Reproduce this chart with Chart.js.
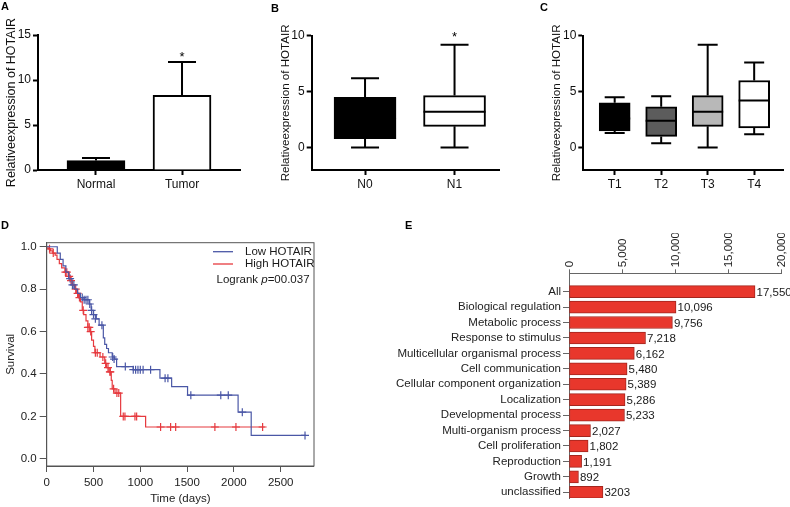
<!DOCTYPE html>
<html><head><meta charset="utf-8">
<script src="https://cdn.jsdelivr.net/npm/chart.js@4/dist/chart.umd.min.js"></script>
<style>
html,body{margin:0;padding:0;background:#fff;}
#wrap{position:relative;width:790px;height:507px;overflow:hidden;background:#fff;}
#wrap canvas{position:absolute;left:0;top:0;}
.lbl{position:absolute;font:bold 11px "Liberation Sans",Arial,sans-serif;color:#000;line-height:1;}
</style></head><body>
<div id="wrap">
<canvas id="cA" width="790" height="507"></canvas>
<canvas id="cB" width="790" height="507"></canvas>
<canvas id="cC" width="790" height="507"></canvas>
<canvas id="cD" width="790" height="507"></canvas>
<canvas id="cE" width="790" height="507"></canvas>
<div class="lbl" style="left:1px;top:1px">A</div>
<div class="lbl" style="left:271px;top:3px">B</div>
<div class="lbl" style="left:540px;top:2px">C</div>
<div class="lbl" style="left:1px;top:220px">D</div>
<div class="lbl" style="left:405px;top:220px">E</div>
</div>
<script>
// ---------- DATA ----------
// Panel A
const catA = ['Normal', 'Tumor'];
const meanA = [1.05, 8.3];
const errA = [0.28, 3.7];
const fillA = ['#000000', '#ffffff'];
const starA = ['', '*'];
const yTicksA = [0, 5, 10, 15];

// Panel B
const catB = ['N0', 'N1'];
const minB = [0.0, 0.0];
const q1B = [0.8, 1.9];
const medB = [2.6, 3.2];
const q3B = [4.5, 4.65];
const maxB = [6.2, 9.2];
const fillB = ['#000000', '#ffffff'];
const starB = ['', '*'];

// Panel C
const catC = ['T1', 'T2', 'T3', 'T4'];
const minC = [1.3, 0.4, 0.0, 1.2];
const q1C = [1.5, 1.0, 1.9, 1.75];
const medC = [2.6, 2.4, 3.2, 4.2];
const q3C = [4.0, 3.65, 4.65, 6.0];
const maxC = [4.5, 4.6, 9.2, 7.6];
const fillC = ['#000000', '#5c5c5c', '#b8b8b8', '#ffffff'];
const starC = ['', '', '', ''];
const yTicksBC = [0, 5, 10];
const yTitle = 'Relativeexpression of HOTAIR';

// Panel D (Kaplan-Meier)
const lowT = [0, 113, 145, 175, 205, 235, 270, 300, 330, 360, 400, 455, 475, 500, 530, 560, 605, 620, 640, 660, 700, 725, 747, 925, 1210, 1335, 1505, 2045, 2185, 2770];
const lowS = [1.0, 0.97, 0.94, 0.91, 0.88, 0.85, 0.82, 0.80, 0.78, 0.76, 0.75, 0.73, 0.70, 0.68, 0.66, 0.63, 0.57, 0.54, 0.52, 0.50, 0.48, 0.47, 0.435, 0.42, 0.38, 0.34, 0.30, 0.22, 0.11, 0.11];
const highT = [0, 15, 40, 65, 90, 110, 135, 160, 195, 235, 255, 275, 300, 320, 340, 360, 380, 395, 420, 440, 465, 480, 500, 515, 570, 620, 640, 665, 690, 700, 730, 790, 1057, 2330];
const highS = [1.0, 0.99, 0.98, 0.97, 0.96, 0.94, 0.92, 0.90, 0.88, 0.86, 0.84, 0.82, 0.80, 0.78, 0.76, 0.74, 0.70, 0.68, 0.65, 0.62, 0.60, 0.56, 0.53, 0.50, 0.48, 0.45, 0.43, 0.41, 0.37, 0.33, 0.31, 0.20, 0.15, 0.15];
const lowCensT = [250, 275, 290, 380, 400, 420, 440, 460, 480, 500, 520, 590, 705, 720, 840, 925, 950, 975, 1000, 1030, 1110, 1265, 1295, 1540, 1860, 1940, 2090, 2760];
const lowCensS = [0.85, 0.82, 0.82, 0.76, 0.75, 0.75, 0.75, 0.73, 0.70, 0.68, 0.66, 0.63, 0.48, 0.47, 0.435, 0.42, 0.42, 0.42, 0.42, 0.42, 0.42, 0.38, 0.38, 0.30, 0.30, 0.30, 0.22, 0.11];
const highCensT = [30, 70, 200, 215, 240, 260, 310, 330, 350, 390, 440, 455, 470, 520, 540, 600, 630, 655, 675, 680, 715, 750, 770, 818, 836, 943, 961, 1217, 1324, 1378, 1797, 2022, 2307];
const highCensS = [0.99, 0.97, 0.88, 0.88, 0.86, 0.84, 0.80, 0.78, 0.76, 0.70, 0.62, 0.62, 0.60, 0.50, 0.50, 0.48, 0.45, 0.43, 0.41, 0.41, 0.33, 0.31, 0.31, 0.20, 0.20, 0.20, 0.20, 0.15, 0.15, 0.15, 0.15, 0.15, 0.15];
const xTicksD = [0, 500, 1000, 1500, 2000, 2500];
const yTicksD = [0, 0.2, 0.4, 0.6, 0.8, 1.0];
const seriesD = ['Low HOTAIR', 'High HOTAIR'];
const colorsD = ['#4a57a6', '#e63a3f'];

// Panel E
const catE = ['All', 'Biological regulation', 'Metabolic process', 'Response to stimulus', 'Multicellular organismal process', 'Cell communication', 'Cellular component organization', 'Localization', 'Developmental process', 'Multi-organism process', 'Cell proliferation', 'Reproduction', 'Growth', 'unclassified'];
const valE = [17550, 10096, 9756, 7218, 6162, 5480, 5389, 5286, 5233, 2027, 1802, 1191, 892, 3203];
const labE = ['17,550', '10,096', '9,756', '7,218', '6,162', '5,480', '5,389', '5,286', '5,233', '2,027', '1,802', '1,191', '892', '3203'];
const xTicksE = [0, 5000, 10000, 15000, 20000];

// ---------- SETUP ----------
const FONT = '"Liberation Sans", Arial, Helvetica, sans-serif';
Chart.defaults.font.family = FONT;
Chart.defaults.font.size = 12;
Chart.defaults.color = '#1a1a1a';
Chart.defaults.animation = false;
Chart.defaults.responsive = false;
Chart.defaults.maintainAspectRatio = false;
Chart.defaults.plugins.legend.display = false;
Chart.defaults.plugins.tooltip.enabled = false;

function setTicks(arr) { return s => { s.ticks = arr.map(v => ({ value: v })); }; }

// ---------- PANEL A ----------
const errPlugin = {
  id: 'errA',
  afterDatasetsDraw(chart) {
    const { ctx, scales: { y } } = chart;
    const meta = chart.getDatasetMeta(0);
    ctx.save();
    ctx.strokeStyle = '#000'; ctx.lineWidth = 2;
    meanA.forEach((m, i) => {
      const cx = meta.data[i].x;
      const base = y.getPixelForValue(m);
      const top = y.getPixelForValue(m + errA[i]);
      ctx.beginPath();
      ctx.moveTo(cx, base); ctx.lineTo(cx, top);
      ctx.moveTo(cx - 14, top); ctx.lineTo(cx + 14, top);
      ctx.stroke();
      if (starA[i]) {
        ctx.fillStyle = '#000'; ctx.font = '13px ' + FONT;
        ctx.textAlign = 'center'; ctx.textBaseline = 'alphabetic';
        ctx.fillText(starA[i], cx, top - 9 + 7.5);
      }
    });
    ctx.restore();
  }
};
new Chart(document.getElementById('cA'), {
  type: 'bar',
  data: { datasets: [{ data: catA.map((c, i) => ({ x: i + 1, y: meanA[i] })), backgroundColor: fillA, borderColor: '#000', borderWidth: 2, barThickness: 58 }] },
  options: {
    layout: { padding: { left: 4, top: 35, right: 550, bottom: 307 } },
    scales: {
      x: { type: 'linear', offset: false, min: 0.326, max: 2.674, afterBuildTicks: setTicks([1, 2]),
        ticks: { callback: v => catA[v - 1], autoSkip: false, maxRotation: 0, padding: 2, color: '#111' },
        grid: { offset: false, drawOnChartArea: false, tickLength: 5, tickWidth: 2, tickColor: '#000' },
        border: { color: '#000', width: 2 }, afterFit: s => { s.height = 30; } },
      y: { min: 0, max: 15, afterBuildTicks: setTicks(yTicksA),
        ticks: { padding: 2, color: '#111' },
        grid: { drawOnChartArea: false, tickLength: 5, tickWidth: 2, tickColor: '#000' },
        border: { color: '#000', width: 2 },
        title: { display: true, text: yTitle, padding: 0, color: '#111', font: { size: 12.5 } },
        afterFit: s => { s.width = 34; } }
    }
  },
  plugins: [errPlugin]
});

// ---------- PANELS B, C ----------
function whiskerPlugin(mins, q1, med, q3, maxs, stars, capW, starGap) {
  return {
    id: 'whisk',
    afterDatasetsDraw(chart) {
      const { ctx, scales: { y } } = chart;
      const meta = chart.getDatasetMeta(0);
      ctx.save();
      ctx.strokeStyle = '#000'; ctx.lineWidth = 2;
      meta.data.forEach((bar, i) => {
        const cx = bar.x;
        const hw = bar.width / 2;
        const pMin = y.getPixelForValue(mins[i]), pQ1 = y.getPixelForValue(q1[i]);
        const pMed = y.getPixelForValue(med[i]), pQ3 = y.getPixelForValue(q3[i]);
        const pMax = y.getPixelForValue(maxs[i]);
        ctx.beginPath();
        ctx.moveTo(cx, pQ3); ctx.lineTo(cx, pMax);
        ctx.moveTo(cx - capW / 2, pMax); ctx.lineTo(cx + capW / 2, pMax);
        ctx.moveTo(cx, pQ1); ctx.lineTo(cx, pMin);
        ctx.moveTo(cx - capW / 2, pMin); ctx.lineTo(cx + capW / 2, pMin);
        ctx.moveTo(cx - hw, pMed); ctx.lineTo(cx + hw, pMed);
        ctx.stroke();
        if (stars[i]) {
          ctx.fillStyle = '#000'; ctx.font = '13px ' + FONT;
          ctx.textAlign = 'center'; ctx.textBaseline = 'alphabetic';
          ctx.fillText(stars[i], cx, pMax - starGap + 7.5);
        }
      });
      ctx.restore();
    }
  };
}
function boxChart(id, cats, mins, q1, med, q3, maxs, fills, stars, pad, yW, xr, thick, capW) {
  return new Chart(document.getElementById(id), {
    type: 'bar',
    data: { datasets: [{ data: cats.map((c, i) => ({ x: i + 1, y: [q1[i], q3[i]] })), backgroundColor: fills, borderColor: '#000', borderWidth: 2, borderSkipped: false, barThickness: thick }] },
    options: {
      layout: { padding: pad },
      scales: {
        x: { type: 'linear', offset: false, min: xr[0], max: xr[1], afterBuildTicks: setTicks(cats.map((c, i) => i + 1)),
          ticks: { callback: v => cats[v - 1], autoSkip: false, maxRotation: 0, padding: 2, color: '#111' },
          grid: { offset: false, drawOnChartArea: false, tickLength: 5, tickWidth: 2, tickColor: '#000' },
          border: { color: '#000', width: 2 }, afterFit: s => { s.height = 30; } },
        y: { min: -2, max: 10, afterBuildTicks: setTicks(yTicksBC),
          ticks: { padding: 2, color: '#111' },
          grid: { drawOnChartArea: false, tickLength: 5, tickWidth: 2, tickColor: '#000' },
          border: { color: '#000', width: 2 },
          title: { display: true, text: yTitle, padding: 0, color: '#111', font: { size: 11.6 } },
          afterFit: s => { s.width = yW; } }
      }
    },
    plugins: [whiskerPlugin(mins, q1, med, q3, maxs, stars, capW, 11)]
  });
}
boxChart('cB', catB, minB, q1B, medB, q3B, maxB, fillB, starB,
  { left: 279, top: 35.7, right: 290, bottom: 307 }, 32.7, [0.404, 2.508], 62, 28);
boxChart('cC', catC, minC, q1C, medC, q3C, maxC, fillC, starC,
  { left: 550, top: 35.7, right: 7, bottom: 307 }, 33.3, [0.325, 4.62], 31, 20);

// ---------- PANEL D ----------
const kmPlugin = {
  id: 'km',
  afterDatasetsDraw(chart) {
    const { ctx, chartArea: a } = chart;
    ctx.save();
    ctx.strokeStyle = '#555'; ctx.lineWidth = 1;
    ctx.strokeRect(a.left, a.top, a.right - a.left, a.bottom - a.top);
    ctx.font = '11.5px ' + FONT; ctx.textBaseline = 'middle'; ctx.textAlign = 'left';
    seriesD.forEach((name, i) => {
      const yy = a.top + 9 + i * 12.3;
      ctx.strokeStyle = colorsD[i]; ctx.lineWidth = 1.3;
      ctx.beginPath(); ctx.moveTo(a.right - 101, yy); ctx.lineTo(a.right - 81, yy); ctx.stroke();
      ctx.fillStyle = '#1a1a1a';
      ctx.fillText(name, a.right - 69, yy);
    });
    let xx = a.right - 97.5; const yl = a.top + 37.5;
    ctx.fillText('Logrank ', xx, yl); xx += ctx.measureText('Logrank ').width;
    ctx.font = 'italic 11.5px ' + FONT; ctx.fillText('p', xx, yl); xx += ctx.measureText('p').width;
    ctx.font = '11.5px ' + FONT; ctx.fillText('=00.037', xx, yl);
    ctx.restore();
  }
};
new Chart(document.getElementById('cD'), {
  type: 'line',
  data: { datasets: [
    { data: lowT.map((t, i) => ({ x: t, y: lowS[i] })), borderColor: colorsD[0], borderWidth: 1.2, stepped: 'before', pointRadius: 0, fill: false },
    { data: highT.map((t, i) => ({ x: t, y: highS[i] })), borderColor: colorsD[1], borderWidth: 1.2, stepped: 'before', pointRadius: 0, fill: false },
    { data: lowCensT.map((t, i) => ({ x: t, y: lowCensS[i] })), showLine: false, pointStyle: 'cross', pointRadius: 4, borderColor: colorsD[0], borderWidth: 1.2 },
    { data: highCensT.map((t, i) => ({ x: t, y: highCensS[i] })), showLine: false, pointStyle: 'cross', pointRadius: 4, borderColor: colorsD[1], borderWidth: 1.2 }
  ] },
  options: {
    layout: { padding: { left: 3.7, top: 242.7, right: 476, bottom: 1 } },
    scales: {
      x: { type: 'linear', min: 0, max: 2856, afterBuildTicks: setTicks(xTicksD),
        ticks: { callback: v => String(v), padding: 4, color: '#222', font: { size: 11.5 } },
        grid: { drawOnChartArea: false, tickLength: 6, tickColor: '#555' },
        border: { color: '#555', width: 1 },
        title: { display: true, text: 'Time (days)', padding: 0, color: '#222', font: { size: 11.5 } },
        afterFit: s => { s.height = 40; } },
      y: { min: -0.034, max: 1.019, afterBuildTicks: setTicks(yTicksD),
        ticks: { callback: v => v.toFixed(1), padding: 3, color: '#222', font: { size: 11.5 } },
        grid: { drawOnChartArea: false, tickLength: 7, tickColor: '#555' },
        border: { color: '#555', width: 1 },
        title: { display: true, text: 'Survival', padding: 0, color: '#222', font: { size: 11.5 } },
        afterFit: s => { s.width = 43; } }
    }
  },
  plugins: [kmPlugin]
});

// ---------- PANEL E ----------
const valPlugin = {
  id: 'vals',
  afterDatasetsDraw(chart) {
    const { ctx } = chart;
    const meta = chart.getDatasetMeta(0);
    ctx.save();
    ctx.font = '11.5px ' + FONT; ctx.fillStyle = '#1a1a1a';
    ctx.textAlign = 'left'; ctx.textBaseline = 'middle';
    meta.data.forEach((bar, i) => { ctx.fillText(labE[i], bar.x + 1.5, bar.y + 1); });
    ctx.restore();
  }
};
new Chart(document.getElementById('cE'), {
  type: 'bar',
  data: { datasets: [{ data: valE.map((v, i) => ({ x: v, y: i })), backgroundColor: '#e8372c', borderColor: '#a3261e', borderWidth: 1, borderSkipped: false, barThickness: 12 }] },
  options: {
    indexAxis: 'y',
    layout: { padding: { left: 369, top: 233.3, right: 9, bottom: 9 } },
    scales: {
      x: { type: 'linear', position: 'top', min: 0, max: 20000, afterBuildTicks: setTicks(xTicksE),
        ticks: { callback: v => v.toLocaleString('en-US'), minRotation: 90, maxRotation: 90, padding: 2, labelOffset: 15, color: '#222', font: { size: 11.5 } },
        grid: { drawOnChartArea: false, tickLength: 4, tickColor: '#666' },
        border: { color: '#666', width: 1 }, afterFit: s => { s.height = 40; } },
      y: { type: 'linear', offset: false, reverse: true, min: -1.19, max: 13.37, afterBuildTicks: setTicks(catE.map((c, i) => i)),
        ticks: { callback: v => catE[v], autoSkip: false, padding: 2, color: '#222', font: { size: 11.5 } },
        grid: { offset: false, drawOnChartArea: false, tickLength: 6, tickColor: '#666' },
        border: { color: '#666', width: 1 }, afterFit: s => { s.width = 200; } }
    }
  },
  plugins: [valPlugin]
});
</script>
</body></html>
